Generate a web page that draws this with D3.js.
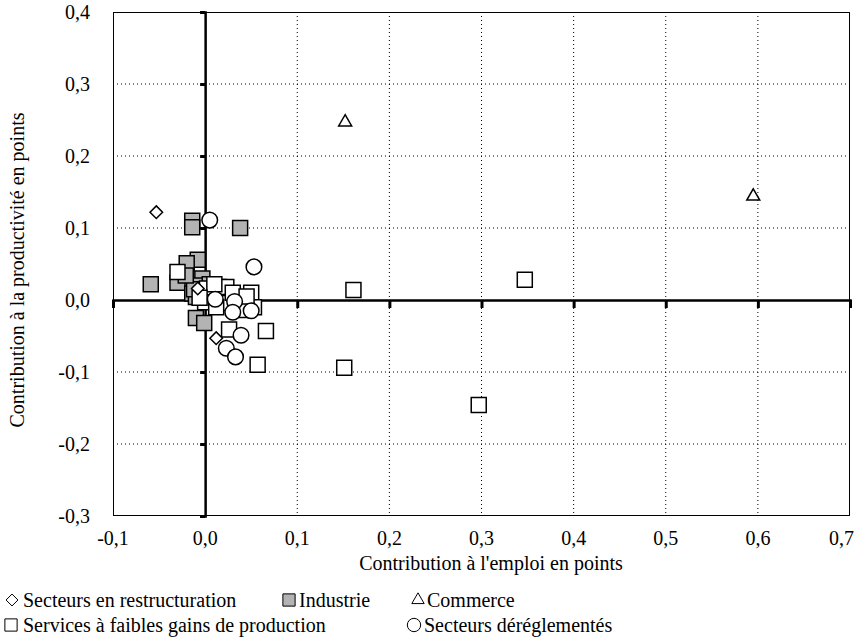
<!DOCTYPE html>
<html>
<head>
	<meta charset='utf-8'>
	<script src="https://d3js.org/d3.v7.min.js"></script>
</head>
<body style="margin:0">
<script>
	// data: [contribution emploi, contribution productivité]
	const restructuration = [[-0.053,0.122],[-0.008,0.016],[0.012,-0.053]];
	const industrie = [[-0.059,0.022],[-0.014,0.110],[-0.014,0.101],[0.038,0.100],[-0.008,0.056],[-0.020,0.051],
		[-0.030,0.024],[-0.003,0.030],[-0.014,0.009],[-0.010,0.004],[-0.005,0.020],[0.005,0.022],[0.015,0.018],
		[-0.010,-0.025],[-0.001,-0.032],[-0.012,0.015],[-0.021,0.034]];
	const commerce = [[0.152,0.247],[0.595,0.144]];
	const services = [[0.161,0.014],[0.347,0.028],[0.151,-0.094],[0.297,-0.146],[0.066,-0.043],[0.057,-0.090],
		[-0.030,0.039],[0.002,0.016],[0.023,0.018],[0.050,0.010],[0.053,-0.010],[0.026,-0.041],[0.000,-0.003],
		[0.018,-0.004],[0.040,-0.014],[0.010,0.022],[0.030,0.010],[-0.006,0.003],[0.012,-0.010],[0.045,0.005]];
	const dereglementes = [[0.005,0.111],[0.053,0.046],[0.011,0.001],[0.032,-0.002],[0.030,-0.017],[0.050,-0.015],
		[0.039,-0.049],[0.023,-0.067],[0.033,-0.079]];
	const xTicks = [-0.1,0,0.1,0.2,0.3,0.4,0.5,0.6,0.7];
	const yTicks = [-0.3,-0.2,-0.1,0,0.1,0.2,0.3,0.4];

	const W = 856, H = 641;
	const plot = {left:113, right:850, top:12, bottom:516};
	const serif = '"Liberation Serif"';
	const fs = "20px";
	const fmt = d => d3.format(".1f")(d).replace(".", ",").replace("−", "-");

	const svg = d3.select("body").append("svg").attr("width",W).attr("height",H);

	const x = d3.scaleLinear().domain([-0.1,0.7]).range([plot.left,plot.right]);
	const y = d3.scaleLinear().domain([-0.3,0.4]).range([plot.bottom,plot.top]);

	//grid
	svg.append("g").selectAll("line").data(xTicks.filter(d => d > -0.1 && d < 0.7 && d !== 0)).enter()
		.append("line").attr("x1",d => x(d)).attr("x2",d => x(d)).attr("y1",plot.top).attr("y2",plot.bottom)
		.attr("stroke","#000").attr("stroke-width",1).attr("stroke-dasharray","1,3");
	svg.append("g").selectAll("line").data(yTicks.filter(d => d > -0.3 && d < 0.4 && d !== 0)).enter()
		.append("line").attr("y1",d => y(d)).attr("y2",d => y(d)).attr("x1",plot.left).attr("x2",plot.right)
		.attr("stroke","#000").attr("stroke-width",1).attr("stroke-dasharray","1,3");

	//frame
	svg.append("rect").attr("x",plot.left+0.5).attr("y",plot.top+0.5)
		.attr("width",plot.right-plot.left-1).attr("height",plot.bottom-plot.top-1)
		.attr("fill","none").attr("stroke","#000").attr("stroke-width",1);

	//zero axes
	svg.append("g").attr("transform",`translate(0,${y(0)})`)
		.call(d3.axisBottom(x).tickValues(xTicks).tickSize(8).tickFormat(""))
		.call(g => g.select(".domain").attr("stroke-width",2.5))
		.call(g => g.selectAll(".tick line").attr("stroke-width",3));
	svg.append("g").attr("transform",`translate(${x(0)},0)`)
		.call(d3.axisLeft(y).tickValues(yTicks).tickSize(5).tickFormat(""))
		.call(g => g.select(".domain").attr("stroke-width",2.5))
		.call(g => g.selectAll(".tick line").attr("stroke-width",3));

	//tick labels
	svg.append("g").selectAll("text").data(xTicks).enter().append("text")
		.attr("x",d => d === 0.7 ? plot.right+4 : x(d)).attr("y",plot.bottom+29)
		.attr("text-anchor",d => d === 0.7 ? "end" : "middle")
		.style("font-family",serif).style("font-size",fs).text(fmt);
	svg.append("g").selectAll("text").data(yTicks).enter().append("text")
		.attr("x",plot.left-23).attr("y",d => y(d)+7).attr("text-anchor","end")
		.style("font-family",serif).style("font-size",fs).text(fmt);

	//axis titles
	svg.append("text").attr("x",491).attr("y",570).attr("text-anchor","middle")
		.style("font-family",serif).style("font-size",fs).text("Contribution à l'emploi en points");
	svg.append("text").attr("transform","translate(24,270) rotate(-90)").attr("text-anchor","middle")
		.style("font-family",serif).style("font-size",fs).text("Contribution à la productivité en points");

	//markers
	const sq = 15;
	const sym = {
		square: d3.symbol().type(d3.symbolSquare).size(sq*sq),
		triangle: d3.symbol().type(d3.symbolTriangle2).size(120),
		diamond: d3.symbol().type(d3.symbolDiamond2).size(100),
		circle: d3.symbol().type(d3.symbolCircle).size(Math.PI*7.8*7.8)
	};
	function draw(data, shape, fill){
		svg.append("g").selectAll("path").data(data).enter().append("path")
			.attr("transform",d => `translate(${x(d[0])},${y(d[1])})`)
			.attr("d",sym[shape]).attr("fill",fill).attr("stroke","#000").attr("stroke-width",1.5);
	}
	draw(industrie,"square","#b3b3b3");
	draw(services,"square","#fff");
	draw(commerce,"triangle","#fff");
	draw(dereglementes,"circle","#fff");
	draw(restructuration,"diamond","#fff");

	//legend
	const legend = [
		{label:"Secteurs en restructuration", shape:"diamond", fill:"#fff", x:12, y:600, dx:11},
		{label:"Industrie", shape:"square", fill:"#b3b3b3", x:289, y:600, dx:10},
		{label:"Commerce", shape:"triangle", fill:"#fff", x:418, y:600, dx:9},
		{label:"Services à faibles gains de production", shape:"square", fill:"#fff", x:11, y:625, dx:12},
		{label:"Secteurs déréglementés", shape:"circle", fill:"#fff", x:414, y:625, dx:10}
	];
	const lsym = {
		square: d3.symbol().type(d3.symbolSquare).size(150),
		triangle: d3.symbol().type(d3.symbolTriangle2).size(110),
		diamond: d3.symbol().type(d3.symbolDiamond2).size(90),
		circle: d3.symbol().type(d3.symbolCircle).size(140)
	};
	legend.forEach(function(d){
		svg.append("path").attr("transform",`translate(${d.x},${d.y})`).attr("d",lsym[d.shape])
			.attr("fill",d.fill).attr("stroke","#000").attr("stroke-width",1);
		svg.append("text").attr("x",d.x+d.dx).attr("y",d.y+7)
			.style("font-family",serif).style("font-size",fs).text(d.label);
	});
</script>
</body>
</html>
